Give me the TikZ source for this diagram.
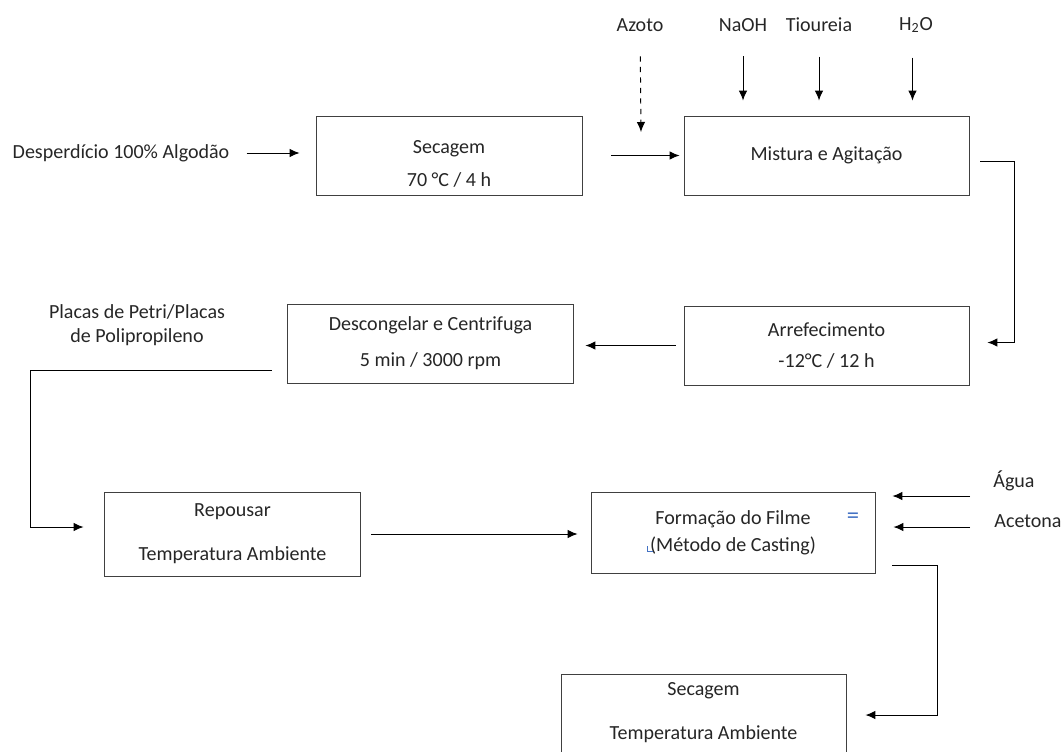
\documentclass[tikz,border=0pt]{standalone}
\usepackage{fontspec}
\setmainfont{Carlito}
\usepackage{tikz}
\usepackage{xcolor}
\usetikzlibrary{arrows.meta,calc,positioning}
\definecolor{boxline}{RGB}{64,64,64}
\definecolor{inkgray}{RGB}{38,38,38}
\definecolor{markblue}{RGB}{68,114,196}

\begin{document}
\begin{tikzpicture}[
    x=0.02cm,y=-0.02cm,
    >={Latex[length=2mm,width=1.7mm]},
    font=\fontsize{11.4}{13.7}\selectfont,
    text=inkgray,
    process/.style={
      rectangle,draw=boxline,line width=0.55pt,fill=white,
      minimum height=1.58cm,align=center,inner sep=0pt
    },
    tag/.style={align=center,inner sep=2.8pt},
    flow/.style={->,line width=0.55pt,color=black},
    feed/.style={flow,shorten <=0.39cm,shorten >=0.3cm}
  ]
    \clip (0,0) rectangle (1064,751);

    % process boxes
    \node[process,minimum width=5.32cm] (sec1) at (449,155.5) {\rule{0pt}{16.5pt}Secagem\\[5pt]70 °C / 4 h};
    \node[process,minimum width=5.7cm] (mix) at (826.5,155.5) {Mistura e Agitação};
    \node[process,minimum width=5.7cm] (cool) at (826.5,345.5) {Arrefecimento\\[4pt]-12°C / 12 h};
    \node[process,minimum width=5.74cm] (thaw) at (430.5,343.5) {Descongelar e Centrifuga\\[6.8pt]5 min / 3000 rpm};
    \node[process,minimum width=5.14cm,minimum height=1.68cm] (rest) at (232.5,534) {Repousar\\[11.3pt]Temperatura Ambiente};
    \node[process,minimum width=5.68cm,minimum height=1.62cm] (film) at (733,532.5) {Formação do Filme\\[1.7pt](Método de Casting)};
    \node[process,minimum width=5.7cm,minimum height=1.56cm] (dry) at (703.5,713) {Secagem\\[11.3pt]Temperatura Ambiente};

    % inputs
    \node[tag] (waste) at (121,153) {Desperdício 100\% Algodão};
    \node[tag] (azoto) at (640,25) {Azoto};
    \node[tag] (naoh) at (743,25) {NaOH};
    \node[tag] (tiou) at (819,25) {Tioureia};
    \node[tag] (water) at (916,25) {H\textsubscript{2}O};
    \node[tag] (plates) at (137,325) {Placas de Petri/Placas\\de Polipropileno};
    \node[tag] (agua) at (1014,481) {Água};
    \node[tag] (acet) at (1028,521) {Acetona};

    % editor marks
    \node[text=markblue,inner sep=0pt,font=\fontsize{14}{14}\selectfont] (eqmark) at (853,518) {=};
    \draw[markblue,line width=0.5pt] (647,546) -- (647,551) -- (653,551);

    \coordinate (azin) at (641,132);
    \coordinate (aguain) at ([shift={(-44,15)}]agua.center);
    \coordinate (acetin) at ([shift={(-58,6)}]acet.center);

    \draw[flow,shorten <=0.24cm,shorten >=0.32cm] (waste) -- (waste -| sec1.west);
    \draw[flow,shorten <=0.58cm,shorten >=0.08cm] (sec1) -- (mix);
    \draw[feed,dashed,shorten >=0pt] (azoto) -- (azin);
    \draw[feed] (naoh) -- (naoh |- mix.north);
    \draw[feed] (tiou) -- (tiou |- mix.north);
    \draw[feed] ([xshift=-2pt]water.south) -- ([xshift=-2pt]water.south |- mix.north);
    \draw[flow] ([shift={(11,6)}]mix.east) -- ++(34,0) |- ([shift={(18,-3)}]cool.east);
    \draw[flow,shorten <=0.16cm,shorten >=0.22cm] (cool.west) -- (cool.west -| thaw.east);
    \draw[flow] ([shift={(-15,26.5)}]thaw.west) -- ++(-241,0) |- ([shift={(-20,-7)}]rest.west);
    \draw[flow,shorten <=0.2cm,shorten >=0.26cm] (rest.east) -- (rest.east -| film.west);
    \draw[flow,shorten >=0.34cm] (aguain) -- (aguain -| film.east);
    \draw[flow,shorten >=0.36cm] (acetin) -- (acetin -| film.east);
    \draw[flow] ([shift={(17,32.5)}]film.east) -- ++(45,0) |- ([shift={(19,2)}]dry.east);
  \end{tikzpicture}
\end{document}
